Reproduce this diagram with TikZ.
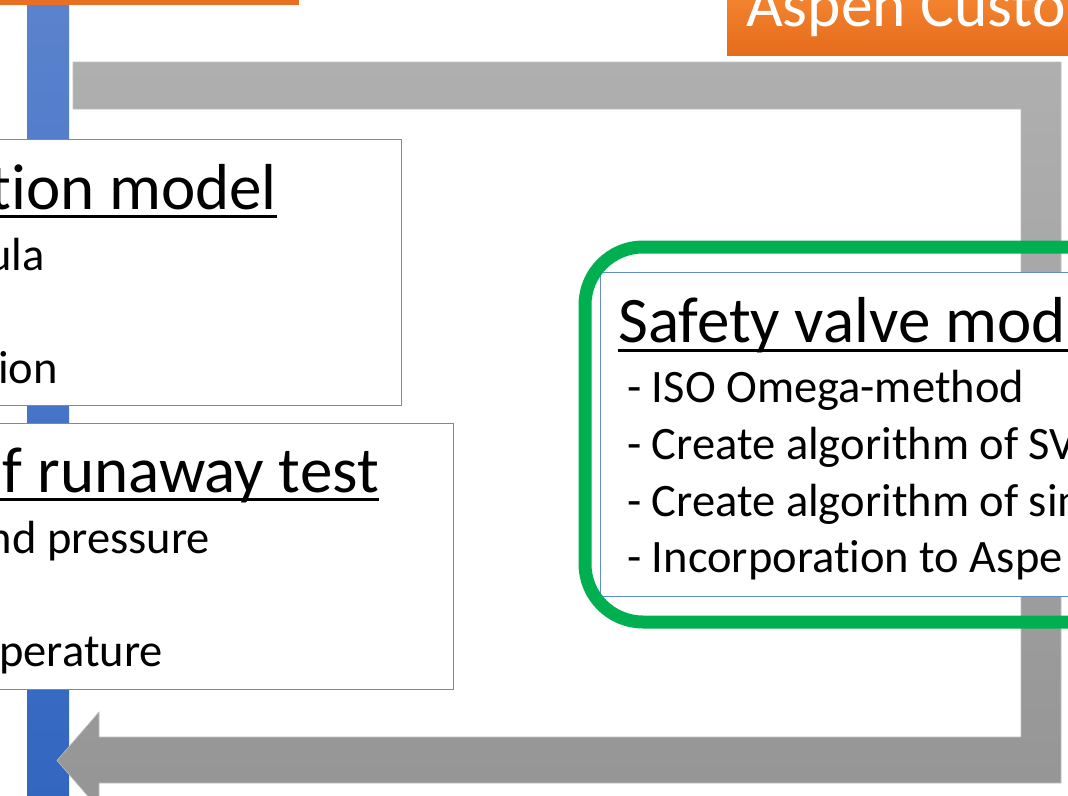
\documentclass[tikz,border=0pt]{standalone}
\usepackage{fontspec}
\setmainfont{Carlito}[Ligatures={NoCommon}]
\definecolor{panelblue}{RGB}{98,138,214}
\definecolor{flowgreen}{RGB}{0,176,80}
\definecolor{barTop}{RGB}{91,131,205}
\definecolor{barBot}{RGB}{50,102,192}
\definecolor{loopTop}{RGB}{175,175,175}
\definecolor{loopBot}{RGB}{149,149,149}
\definecolor{tagTop}{RGB}{243,130,46}
\definecolor{tagBot}{RGB}{228,107,27}
\definecolor{tagFlat}{RGB}{233,112,34}
\begin{document}
\begin{tikzpicture}[x=1pt,y=-1pt,
  panel/.style={draw=panelblue, line width=1.3pt, fill=white, inner sep=0pt, anchor=north west},
  titletext/.style={inner sep=0pt, font=\fontsize{65}{65}\selectfont},
  bodytext/.style={inner sep=0pt, font=\fontsize{46.5}{46.5}\selectfont},
  tagtext/.style={inner sep=0pt, text=white, font=\fontsize{63.5}{63.5}\selectfont},
  uline/.style={line width=3pt, black},
  loop/.style={top color=loopTop, bottom color=loopBot, draw=black!25, line width=0.6pt},
]
\useasboundingbox (0,0) rectangle (1068,795);

% vertical blue bar on the left
\path[top color=barTop, bottom color=barBot] (27,-5) rectangle (69,800);

% grey feedback loop ending in an arrow head
\path[loop] (73,62) -- (1061,62) -- (1061,783) -- (99,783) -- (99,809)
  -- (57,760.5) -- (99,712) -- (99,737) -- (1021,737) -- (1021,109)
  -- (73,109) -- cycle;

% orange header tags
\path[fill=tagFlat] (-5,-10) rectangle (299,5);
\path[top color=tagTop, bottom color=tagBot] (727,0) rectangle (1080,55);
\node[tagtext, anchor=base west] (tag) at (746,27) {Aspen Custo};

% left panels
\node[panel, minimum width=421, minimum height=266] (react) at (-20,139) {};
\node[panel, minimum width=473, minimum height=266] (runaway) at (-20,423) {};

% right panel with green highlight
\node[panel, minimum width=520, minimum height=324] (valve) at (600,272) {};
\draw[flowgreen, line width=13pt, rounded corners=58pt] (585,247) rectangle (1140,622);

% reaction model text
\node[titletext, anchor=base east] (reactT) at (277,209) {tion model};
\draw[uline] (0,216) -- (reactT.base east |- 0,216);
\node[bodytext, anchor=base east] (reactA) at (45,270) {ula};
\node[bodytext, anchor=base east] (reactB) at (58,383) {ion};

% runaway test text
\node[titletext, anchor=base east] (runT) at (379,492) {f runaway test};
\draw[uline] (0,499) -- (runT.base east |- 0,499);
\node[bodytext, anchor=base east] (runA) at (210,553) {nd pressure};
\node[bodytext, anchor=base east] (runB) at (163,666) {perature};

% safety valve model text
\node[titletext, anchor=base west] (valveT) at (618,342) {Safety valve mod};
\draw[uline, line width=2.6pt] (valveT.base west |- 0,350.5) -- (1070,350.5);
\node[bodytext, anchor=base west] (valveA) at (627,402) {- ISO Omega-method};
\node[bodytext, anchor=base west] (valveB) at (627,459) {- Create algorithm of SV};
\node[bodytext, anchor=base west] (valveC) at (627,516) {- Create algorithm of sim};
\node[bodytext, anchor=base west] (valveD) at (627,572) {- Incorporation to Aspe};
\end{tikzpicture}
\end{document}
